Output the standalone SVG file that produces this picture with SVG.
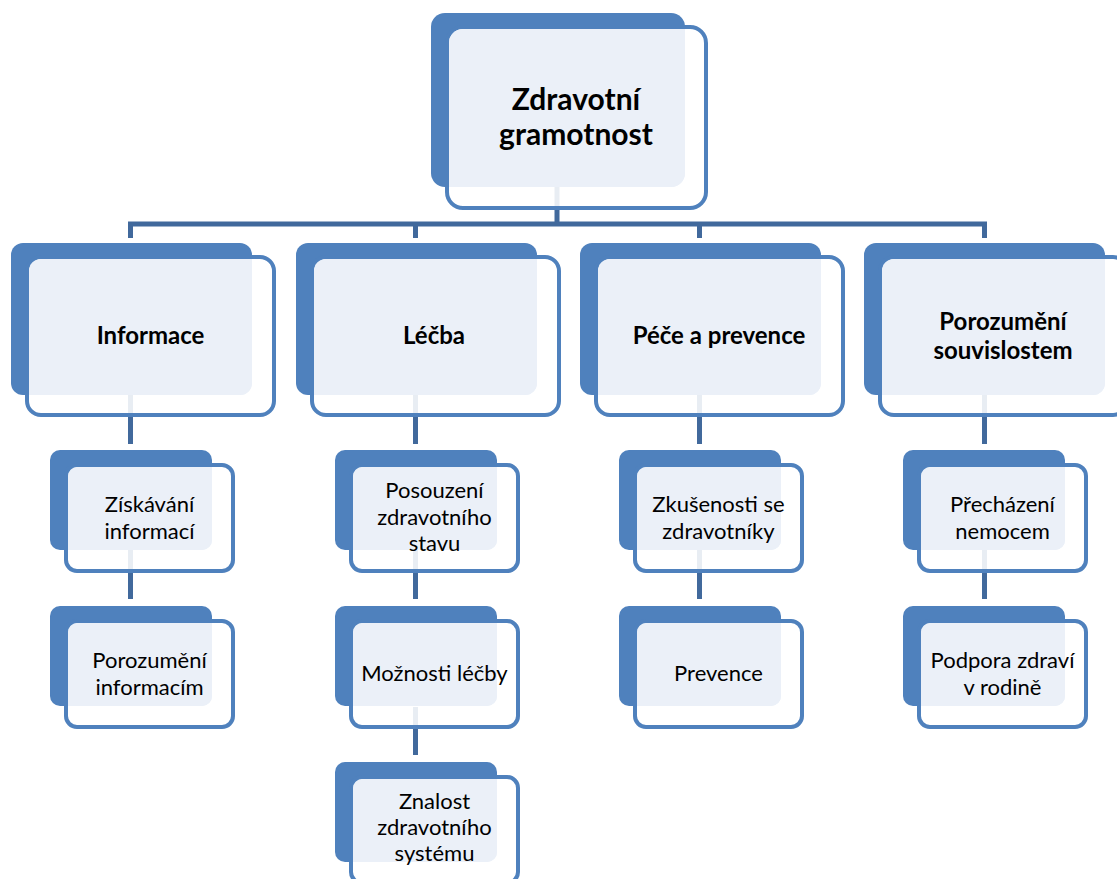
<svg xmlns="http://www.w3.org/2000/svg" width="1117" height="879" viewBox="0 0 1117 879">
<style>
.bk{fill:#4F81BD}
.fr{fill:#FFFFFF;fill-opacity:0.88;stroke:#4F81BD;stroke-width:4}
.lt{fill:#EBF0F8}
.cn{fill:none;stroke:#41699C;stroke-width:5;stroke-linejoin:miter}
.t0{font-family:Lato,"Liberation Sans",sans-serif;font-weight:bold;font-size:30px;fill:#000;text-anchor:middle}
.t1{font-family:Lato,"Liberation Sans",sans-serif;font-weight:bold;font-size:24px;fill:#000;text-anchor:middle}
.t2{font-family:Lato,"Liberation Sans",sans-serif;font-size:22px;fill:#000;text-anchor:middle}
</style>
<rect width="1117" height="879" fill="#fff"/>
<g id="connectors">
<path class="cn" d="M557,187 V224"/>
<path class="cn" d="M130.5,238 V224 H984.5 V238"/>
<path class="cn" d="M415.5,224 V238"/>
<path class="cn" d="M699.5,224 V238"/>
<path class="cn" d="M130.5,395 V444 M130.5,550 V599"/>
<path class="cn" d="M415.5,395 V444 M415.5,550 V599 M415.5,707 V755"/>
<path class="cn" d="M699.5,395 V444 M699.5,550 V599"/>
<path class="cn" d="M984.5,395 V444 M984.5,550 V599"/>
</g>
<g id="n0">
<rect class="bk" x="431" y="13" width="254" height="174" rx="14"/>
<rect class="fr" x="447" y="27" width="259" height="181" rx="16"/>
<path class="lt" d="M463,29 H685 V173 A14,14 0 0 1 671,187 H449 V43 A14,14 0 0 1 463,29 Z"/>
<text class="t0" x="576" y="110">Zdravotní</text>
<text class="t0" x="576" y="145">gramotnost</text>
</g>
<g id="n1">
<rect class="bk" x="11" y="243" width="241" height="152" rx="12"/>
<rect class="fr" x="27" y="257" width="247" height="158" rx="14"/>
<path class="lt" d="M41,259 H252 V383 A12,12 0 0 1 240,395 H29 V271 A12,12 0 0 1 41,259 Z"/>
<text class="t1" x="150.5" y="344">Informace</text>
</g>
<g id="n2">
<rect class="bk" x="296" y="243" width="241" height="152" rx="12"/>
<rect class="fr" x="312" y="257" width="247" height="158" rx="14"/>
<path class="lt" d="M326,259 H537 V383 A12,12 0 0 1 525,395 H314 V271 A12,12 0 0 1 326,259 Z"/>
<text class="t1" x="434" y="344">Léčba</text>
</g>
<g id="n3">
<rect class="bk" x="580" y="243" width="241" height="152" rx="12"/>
<rect class="fr" x="596" y="257" width="247" height="158" rx="14"/>
<path class="lt" d="M610,259 H821 V383 A12,12 0 0 1 809,395 H598 V271 A12,12 0 0 1 610,259 Z"/>
<text class="t1" x="719" y="344">Péče a prevence</text>
</g>
<g id="n4">
<rect class="bk" x="864" y="243" width="241" height="152" rx="12"/>
<rect class="fr" x="880" y="257" width="247" height="158" rx="14"/>
<path class="lt" d="M894,259 H1105 V383 A12,12 0 0 1 1093,395 H882 V271 A12,12 0 0 1 894,259 Z"/>
<text class="t1" x="1003" y="330">Porozumění</text>
<text class="t1" x="1003" y="359">souvislostem</text>
</g>
<g id="n1a">
<rect class="bk" x="50" y="450" width="162" height="100" rx="10"/>
<rect class="fr" x="66" y="465" width="167" height="106" rx="11"/>
<path class="lt" d="M78,467 H212 V540 A10,10 0 0 1 202,550 H68 V477 A10,10 0 0 1 78,467 Z"/>
<text class="t2" x="149.5" y="512">Získávání</text>
<text class="t2" x="149.5" y="539">informací</text>
</g>
<g id="n1b">
<rect class="bk" x="50" y="606" width="162" height="100" rx="10"/>
<rect class="fr" x="66" y="621" width="167" height="106" rx="11"/>
<path class="lt" d="M78,623 H212 V696 A10,10 0 0 1 202,706 H68 V633 A10,10 0 0 1 78,623 Z"/>
<text class="t2" x="149.5" y="668">Porozumění</text>
<text class="t2" x="149.5" y="695">informacím</text>
</g>
<g id="n2a">
<rect class="bk" x="335" y="450" width="162" height="100" rx="10"/>
<rect class="fr" x="351" y="465" width="167" height="106" rx="11"/>
<path class="lt" d="M363,467 H497 V540 A10,10 0 0 1 487,550 H353 V477 A10,10 0 0 1 363,467 Z"/>
<text class="t2" x="434.5" y="498">Posouzení</text>
<text class="t2" x="434.5" y="525">zdravotního</text>
<text class="t2" x="434.5" y="551">stavu</text>
</g>
<g id="n2b">
<rect class="bk" x="335" y="606" width="162" height="100" rx="10"/>
<rect class="fr" x="351" y="621" width="167" height="106" rx="11"/>
<path class="lt" d="M363,623 H497 V696 A10,10 0 0 1 487,706 H353 V633 A10,10 0 0 1 363,623 Z"/>
<text class="t2" x="434.5" y="681">Možnosti léčby</text>
</g>
<g id="n2c">
<rect class="bk" x="335" y="762" width="162" height="100" rx="10"/>
<rect class="fr" x="351" y="777" width="167" height="106" rx="11"/>
<path class="lt" d="M363,779 H497 V852 A10,10 0 0 1 487,862 H353 V789 A10,10 0 0 1 363,779 Z"/>
<text class="t2" x="434.5" y="809">Znalost</text>
<text class="t2" x="434.5" y="835">zdravotního</text>
<text class="t2" x="434.5" y="861">systému</text>
</g>
<g id="n3a">
<rect class="bk" x="619" y="450" width="162" height="100" rx="10"/>
<rect class="fr" x="635" y="465" width="167" height="106" rx="11"/>
<path class="lt" d="M647,467 H781 V540 A10,10 0 0 1 771,550 H637 V477 A10,10 0 0 1 647,467 Z"/>
<text class="t2" x="718.5" y="512">Zkušenosti se</text>
<text class="t2" x="718.5" y="539">zdravotníky</text>
</g>
<g id="n3b">
<rect class="bk" x="619" y="606" width="162" height="100" rx="10"/>
<rect class="fr" x="635" y="621" width="167" height="106" rx="11"/>
<path class="lt" d="M647,623 H781 V696 A10,10 0 0 1 771,706 H637 V633 A10,10 0 0 1 647,623 Z"/>
<text class="t2" x="718.5" y="681">Prevence</text>
</g>
<g id="n4a">
<rect class="bk" x="903" y="450" width="162" height="100" rx="10"/>
<rect class="fr" x="919" y="465" width="167" height="106" rx="11"/>
<path class="lt" d="M931,467 H1065 V540 A10,10 0 0 1 1055,550 H921 V477 A10,10 0 0 1 931,467 Z"/>
<text class="t2" x="1002.5" y="512">Přecházení</text>
<text class="t2" x="1002.5" y="539">nemocem</text>
</g>
<g id="n4b">
<rect class="bk" x="903" y="606" width="162" height="100" rx="10"/>
<rect class="fr" x="919" y="621" width="167" height="106" rx="11"/>
<path class="lt" d="M931,623 H1065 V696 A10,10 0 0 1 1055,706 H921 V633 A10,10 0 0 1 931,623 Z"/>
<text class="t2" x="1002.5" y="668">Podpora zdraví</text>
<text class="t2" x="1002.5" y="695">v rodině</text>
</g>
</svg>
